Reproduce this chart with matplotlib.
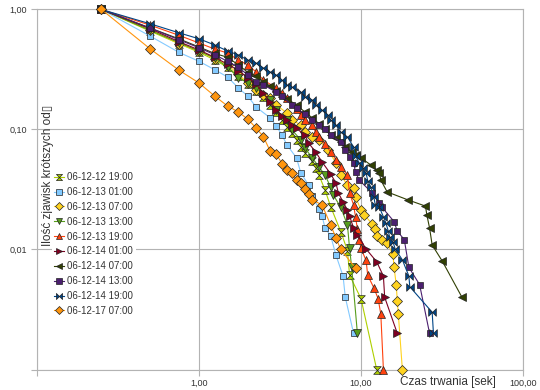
import numpy as np
import matplotlib
matplotlib.use("Agg")
import matplotlib.pyplot as plt
from matplotlib.path import Path

plt.rcParams['font.family'] = ['Liberation Sans', 'DejaVu Sans']

# Dane: czas trwania [s] i udział zjawisk
labels = ["06-12-12 19:00", "06-12-13 01:00", "06-12-13 07:00", "06-12-13 13:00",
          "06-12-13 19:00", "06-12-14 01:00", "06-12-14 07:00", "06-12-14 13:00",
          "06-12-14 19:00", "06-12-17 07:00"]

x_1219 = [0.25, 0.5, 0.75, 1.0, 1.25, 1.5, 1.75, 2.0, 2.25, 2.5, 2.75, 3.0, 3.25, 3.5,
          3.75, 4.0, 4.25, 4.5, 5.0, 5.25, 5.5, 6.0, 6.5, 7.5, 8.25, 8.5, 10.0, 12.5]
y_1219 = [1.0, 0.66, 0.52, 0.44, 0.38, 0.33, 0.28, 0.24, 0.21, 0.185, 0.16, 0.14, 0.12, 0.105,
          0.093, 0.082, 0.072, 0.064, 0.055, 0.048, 0.0417, 0.0313, 0.0227, 0.0141, 0.0098,
          0.0061, 0.0039, 0.001]

x_1301 = [0.25, 0.5, 0.75, 1.0, 1.25, 1.5, 1.75, 2.0, 2.25, 2.75, 3.0, 3.25, 3.5, 4.0,
          4.25, 4.75, 5.0, 5.5, 5.75, 6.0, 6.5, 7.0, 7.75, 8.0, 9.0]
y_1301 = [1.0, 0.6, 0.44, 0.37, 0.315, 0.274, 0.222, 0.19, 0.154, 0.125, 0.107, 0.09, 0.074,
          0.058, 0.0434, 0.0345, 0.028, 0.0218, 0.019, 0.0151, 0.013, 0.009, 0.006, 0.004, 0.002]

x_1307 = [0.25, 0.5, 0.75, 1.0, 1.25, 1.5, 1.75, 2.0, 2.25, 2.5, 2.75, 3.0, 3.5, 3.75, 4.25,
          4.5, 5.0, 5.5, 6.25, 7.0, 7.5, 8.25, 9.0, 9.25, 10.0, 10.5, 11.75, 12.25, 12.5,
          13.5, 14.5, 15.75, 16.0, 16.5, 16.75, 17.0, 18.0]
y_1307 = [1.0, 0.68, 0.52, 0.45, 0.39, 0.345, 0.29, 0.244, 0.213, 0.195, 0.183, 0.16, 0.137,
          0.12, 0.109, 0.095, 0.087, 0.082, 0.0675, 0.0527, 0.0417, 0.0345, 0.0325, 0.0275,
          0.0213, 0.0195, 0.0162, 0.0149, 0.013, 0.0121, 0.0113, 0.0091, 0.0071, 0.0051,
          0.0037, 0.0029, 0.001]

x_1313 = [0.25, 0.5, 0.75, 1.0, 1.25, 1.5, 1.75, 2.0, 2.25, 2.75, 3.0, 3.5, 3.75, 4.25, 4.5,
          5.0, 5.5, 6.0, 6.5, 6.75, 7.5, 8.25, 8.5, 8.75, 9.5]
y_1313 = [1.0, 0.67, 0.53, 0.45, 0.394, 0.332, 0.27, 0.245, 0.222, 0.176, 0.145, 0.12, 0.099,
          0.082, 0.0703, 0.058, 0.0488, 0.0417, 0.033, 0.0284, 0.0225, 0.016, 0.0102, 0.0072, 0.002]

x_1319 = [0.25, 0.5, 0.75, 1.0, 1.25, 1.5, 1.75, 2.0, 2.25, 2.5, 3.0, 3.25, 3.5, 4.0, 4.25,
          4.5, 5.0, 5.25, 5.5, 6.0, 6.5, 7.0, 7.5, 8.25, 8.5, 9.0, 9.25, 9.5, 9.75, 10.0,
          10.75, 11.0, 12.0, 12.75, 13.25, 13.75]
y_1319 = [1.0, 0.74, 0.61, 0.526, 0.468, 0.434, 0.379, 0.345, 0.302, 0.258, 0.222, 0.202,
          0.183, 0.148, 0.132, 0.12, 0.109, 0.095, 0.087, 0.075, 0.065, 0.056, 0.049, 0.0417,
          0.0295, 0.0235, 0.0187, 0.0149, 0.0121, 0.0102, 0.0081, 0.0061, 0.0048, 0.0039,
          0.0029, 0.001]

x_1401 = [0.25, 0.5, 0.75, 1.0, 1.25, 1.5, 1.75, 2.0, 2.25, 2.5, 2.75, 3.0, 3.25, 3.5, 3.75,
          4.0, 4.5, 4.75, 5.25, 5.75, 6.5, 7.0, 7.25, 7.75, 8.25, 8.5, 9.0, 9.5, 10.75, 12.5,
          13.75, 14.0, 16.75]
y_1401 = [1.0, 0.69, 0.54, 0.46, 0.40, 0.35, 0.31, 0.27, 0.24, 0.20, 0.17, 0.145, 0.13, 0.12,
          0.11, 0.102, 0.09, 0.077, 0.065, 0.0536, 0.0426, 0.0358, 0.0296, 0.0249, 0.0213,
          0.019, 0.0151, 0.0132, 0.0101, 0.0079, 0.006, 0.004, 0.002]

x_1407 = [0.25, 0.5, 0.75, 1.0, 1.25, 1.5, 1.75, 2.0, 2.25, 2.5, 2.75, 3.0, 3.5, 4.0, 4.5,
          5.0, 5.5, 6.0, 6.5, 7.0, 7.5, 8.0, 8.75, 9.25, 10.0, 11.5, 12.5, 13.0, 13.25, 14.5,
          19.5, 25.0, 25.5, 26.5, 27.5, 31.75, 42.0]
y_1407 = [1.0, 0.70, 0.57, 0.487, 0.43, 0.40, 0.345, 0.30, 0.28, 0.25, 0.23, 0.21, 0.18,
          0.16, 0.14, 0.125, 0.112, 0.10, 0.09, 0.085, 0.0786, 0.072, 0.065, 0.0614, 0.058,
          0.0506, 0.0459, 0.0434, 0.0379, 0.0302, 0.0259, 0.023, 0.0194, 0.0151, 0.0109,
          0.008, 0.004]

x_1413 = [0.25, 0.5, 0.75, 1.0, 1.25, 1.5, 1.75, 2.0, 2.25, 2.5, 3.0, 3.25, 3.75, 4.0, 4.5,
          5.0, 5.5, 6.0, 6.5, 7.5, 8.0, 8.5, 9.0, 9.25, 9.75, 11.75, 13.0, 13.5, 16.0, 16.75,
          18.5, 19.75, 23.0, 26.5]
y_1413 = [1.0, 0.70, 0.56, 0.48, 0.42, 0.37, 0.33, 0.285, 0.25, 0.235, 0.205, 0.19, 0.16,
          0.15, 0.135, 0.12, 0.109, 0.10, 0.09, 0.0786, 0.0675, 0.059, 0.0527, 0.044, 0.0379,
          0.0295, 0.0244, 0.0224, 0.0171, 0.0142, 0.0121, 0.0071, 0.0051, 0.002]

x_1419 = [0.25, 0.5, 0.75, 1.0, 1.25, 1.5, 1.75, 2.0, 2.25, 2.5, 2.75, 3.0, 3.25, 3.5, 3.75,
          4.25, 4.5, 5.0, 5.25, 5.75, 6.25, 6.5, 7.0, 7.5, 8.25, 9.0, 9.25, 9.75, 10.25,
          10.75, 11.0, 11.5, 12.0, 12.25, 13.0, 13.75, 14.25, 14.75, 15.0, 15.75, 16.25,
          18.0, 19.75, 20.0, 27.5, 28.0]
y_1419 = [1.0, 0.76, 0.64, 0.57, 0.506, 0.451, 0.418, 0.379, 0.358, 0.325, 0.301, 0.284,
          0.258, 0.235, 0.226, 0.205, 0.187, 0.176, 0.160, 0.145, 0.132, 0.120, 0.109, 0.095,
          0.0866, 0.0715, 0.060, 0.0527, 0.0475, 0.0434, 0.0375, 0.033, 0.0275, 0.0235,
          0.0224, 0.0187, 0.0166, 0.0142, 0.0128, 0.0116, 0.0101, 0.0082, 0.006, 0.0049,
          0.003, 0.002]

x_1707 = [0.25, 0.5, 0.75, 1.0, 1.25, 1.5, 1.75, 2.0, 2.25, 2.5, 2.75, 3.0, 3.25, 3.5, 3.75,
          4.0, 4.25, 4.5, 4.75, 5.0, 5.75, 6.5, 7.0, 7.5, 9.25]
y_1707 = [1.0, 0.469, 0.313, 0.244, 0.19, 0.157, 0.14, 0.122, 0.103, 0.087, 0.066, 0.0625,
          0.052, 0.046, 0.043, 0.038, 0.036, 0.032, 0.029, 0.026, 0.0235, 0.016, 0.0125,
          0.01, 0.007]

xs = [x_1219, x_1301, x_1307, x_1313, x_1319, x_1401, x_1407, x_1413, x_1419, x_1707]
ys = [y_1219, y_1301, y_1307, y_1313, y_1319, y_1401, y_1407, y_1413, y_1419, y_1707]

colors = ["#aecf00", "#83caff", "#ffd320", "#579d1c", "#ff420e",
          "#7e0021", "#314004", "#4b1f6f", "#004586", "#ff950e"]

# znaczniki klepsydra / muszka
hourglass = Path([(-1, 1), (1, 1), (-1, -1), (1, -1), (-1, 1)],
                 [Path.MOVETO, Path.LINETO, Path.LINETO, Path.LINETO, Path.CLOSEPOLY])
bowtie = Path([(-1, 1), (-1, -1), (1, 1), (1, -1), (-1, 1)],
              [Path.MOVETO, Path.LINETO, Path.LINETO, Path.LINETO, Path.CLOSEPOLY])
markers = [hourglass, "s", "D", "v", "^", ">", "<", "s", bowtie, "D"]
sizes = [5.5, 5, 5, 6, 6, 6, 6, 5, 5.5, 5.2]

fig = plt.figure(figsize=(5.4, 3.9), dpi=100)
ax = fig.add_axes([37 / 540, 1 - 369.5 / 390, (523 - 37) / 540, (369.5 - 9.5) / 390])

for x, y, c, m, s, lab in zip(xs, ys, colors, markers, sizes, labels):
    ax.plot(x, y, color=c, lw=0.8, marker=m, ms=s, mfc=c, mec="#222222", mew=0.5,
            label=lab, clip_on=False, zorder=3)

ax.set_xscale("log")
ax.set_yscale("log")
ax.set_xlim(0.1, 100)
ax.set_ylim(0.001, 1)
ax.set_xticks([0.1, 1, 10, 100], ["", "1,00", "10,00", "100,00"])
ax.set_yticks([0.001, 0.01, 0.1, 1], ["", "0,01", "0,10", "1,00"])
ax.minorticks_off()
ax.tick_params(axis="both", which="major", length=4, width=0.8, color="#b3b3b3",
               labelsize=6.5, labelcolor="#333333", pad=3)
ax.grid(True, which="major", color="#b3b3b3", lw=0.8, zorder=0)
ax.set_axisbelow(True)
for sp in ax.spines.values():
    sp.set_color("#b3b3b3")
    sp.set_linewidth(0.8)

ax.text(0.022, 0.54, "Ilość zjawisk krótszych od▯", transform=ax.transAxes,
        rotation=90, ha="center", va="center", fontsize=8.5, color="#333333")
fig.text(400 / 540, 1 - 382 / 390, "Czas trwania [sek]", ha="left", va="center",
         fontsize=8.5, color="#333333")

leg = ax.legend(loc="upper left", bbox_to_anchor=(0.02, 0.57), fontsize=7,
                frameon=True, handlelength=1.0, handletextpad=0.3,
                labelspacing=0.5, borderpad=0.3, markerscale=0.8)
leg.get_frame().set_facecolor("white")
leg.get_frame().set_edgecolor("none")
leg.get_frame().set_alpha(1)
for t in leg.get_texts():
    t.set_color("#333333")

plt.savefig("out.png", dpi=100)
